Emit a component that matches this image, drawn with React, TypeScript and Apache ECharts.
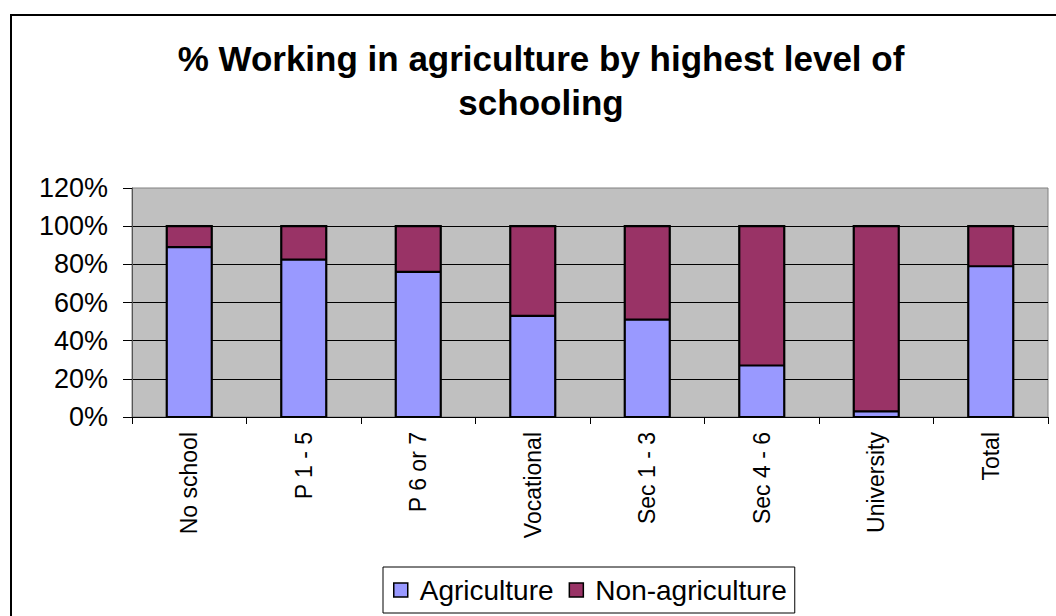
import React, { useEffect, useRef } from "react";
import * as echarts from "echarts";

const FONT = "'Liberation Sans', Arial, sans-serif";

const categories = [
  "No school",
  "P 1 - 5",
  "P 6 or 7",
  "Vocational",
  "Sec 1 - 3",
  "Sec 4 - 6",
  "University",
  "Total",
];

// Share of workers (%) in each schooling group
const agriculture = [89, 82.5, 76, 53, 51, 27, 3, 79];
const nonAgriculture = [11, 17.5, 24, 47, 49, 73, 97, 21];

const titleLines = ["% Working in agriculture by highest level of", "schooling"];

const yTicks = { min: 0, max: 120, interval: 20 };

const BAR_WIDTH = 45;
const AG_COLOR = "#9999FF";
const NON_AG_COLOR = "#993366";

export default function App() {
  const ref = useRef<HTMLDivElement>(null);

  useEffect(() => {
    if (!ref.current) return;
    const chart = echarts.init(ref.current, undefined, { renderer: "svg" });

    // Outline of each stacked column: outer box plus the split between segments
    const outlineData = categories.map((_, i) => [
      i,
      agriculture[i],
      agriculture[i] + nonAgriculture[i],
    ]);

    chart.setOption({
      animation: false,
      backgroundColor: "#fff",
      graphic: [
        {
          type: "rect",
          shape: { x: 11, y: 15, width: 1100, height: 700 },
          style: { fill: "none", stroke: "#000", lineWidth: 2 },
          z: -1,
          silent: true,
        },
        {
          type: "text",
          x: 541,
          y: 58,
          style: {
            text: titleLines[0],
            font: `bold 35px ${FONT}`,
            fill: "#000",
            textAlign: "center",
            textVerticalAlign: "middle",
          },
        },
        {
          type: "text",
          x: 541,
          y: 102,
          style: {
            text: titleLines[1],
            font: `bold 35px ${FONT}`,
            fill: "#000",
            textAlign: "center",
            textVerticalAlign: "middle",
          },
        },
      ],
      grid: {
        left: 132,
        top: 188,
        right: 8,
        bottom: 199,
        show: true,
        backgroundColor: "#C0C0C0",
        borderColor: "#808080",
        borderWidth: 1,
      },
      legend: {
        left: 383,
        top: 567,
        orient: "horizontal",
        padding: [9, 8, 9, 10],
        borderColor: "#000",
        borderWidth: 1,
        itemWidth: 14,
        itemHeight: 14,
        itemGap: 15,
        icon: "rect",
        itemStyle: { borderColor: "#000", borderWidth: 1.5 },
        textStyle: {
          fontFamily: FONT,
          fontSize: 28,
          color: "#000",
          padding: [0, 0, 0, 7],
        },
        data: ["Agriculture", "Non-agriculture"],
      },
      xAxis: {
        type: "category",
        data: categories,
        axisLine: { show: true, lineStyle: { color: "#000", width: 1 } },
        axisTick: { show: true, length: 7, lineStyle: { color: "#000" } },
        axisLabel: {
          rotate: 90,
          interval: 0,
          margin: 15,
          fontFamily: FONT,
          fontSize: 23,
          color: "#000",
        },
        splitLine: { show: false },
      },
      yAxis: {
        type: "value",
        min: yTicks.min,
        max: yTicks.max,
        interval: yTicks.interval,
        axisLine: { show: true, lineStyle: { color: "#555", width: 1 } },
        axisTick: { show: true, length: 9, lineStyle: { color: "#000" } },
        axisLabel: {
          formatter: "{value}%",
          margin: 24,
          fontFamily: FONT,
          fontSize: 27,
          color: "#000",
        },
        splitLine: {
          show: true,
          showMaxLine: false,
          lineStyle: { color: "#000", width: 1 },
        },
      },
      series: [
        {
          name: "Agriculture",
          type: "bar",
          stack: "total",
          barWidth: BAR_WIDTH,
          data: agriculture,
          itemStyle: { color: AG_COLOR },
        },
        {
          name: "Non-agriculture",
          type: "bar",
          stack: "total",
          barWidth: BAR_WIDTH,
          data: nonAgriculture,
          itemStyle: { color: NON_AG_COLOR },
        },
        {
          name: "outline",
          type: "custom",
          silent: true,
          z: 5,
          data: outlineData,
          encode: { x: 0, y: [1, 2] },
          renderItem: (_params: any, api: any) => {
            const idx = api.value(0);
            const base = api.coord([idx, 0]);
            const split = api.coord([idx, api.value(1)]);
            const top = api.coord([idx, api.value(2)]);
            const half = BAR_WIDTH / 2;
            const style = { fill: "none", stroke: "#000", lineWidth: 2.2 };
            return {
              type: "group",
              children: [
                {
                  type: "rect",
                  shape: {
                    x: base[0] - half,
                    y: top[1],
                    width: BAR_WIDTH,
                    height: base[1] - top[1],
                  },
                  style,
                },
                {
                  type: "line",
                  shape: {
                    x1: base[0] - half,
                    y1: split[1],
                    x2: base[0] + half,
                    y2: split[1],
                  },
                  style,
                },
              ],
            };
          },
        },
      ],
    });

    return () => chart.dispose();
  }, []);

  return (
    <div
      ref={ref}
      style={{
        position: "absolute",
        left: 0,
        top: 0,
        width: 1056,
        height: 616,
        background: "#fff",
      }}
    />
  );
}
